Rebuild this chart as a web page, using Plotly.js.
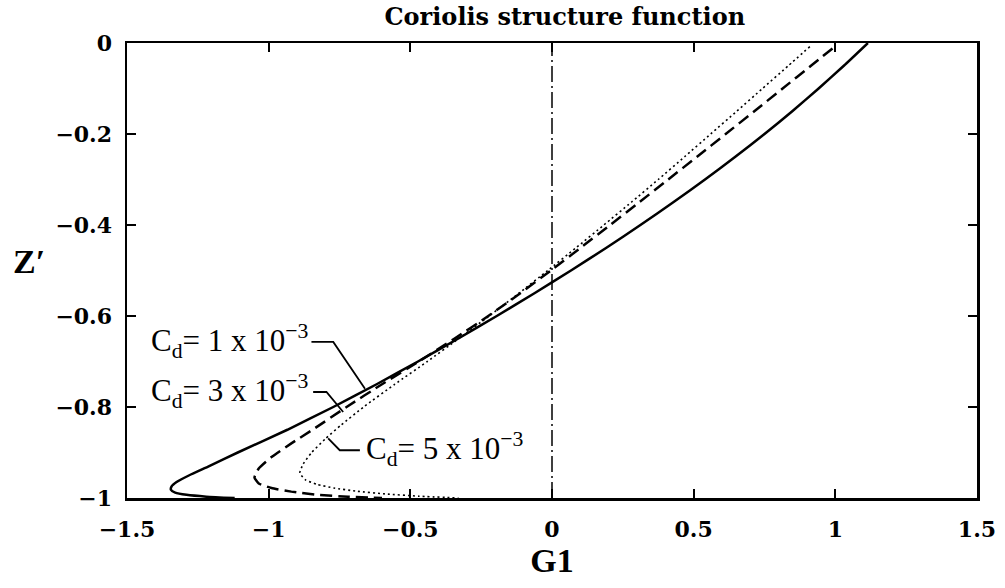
<!DOCTYPE html>
<html>
<head>
<meta charset="utf-8">
<script src="https://cdn.plot.ly/plotly-3.0.1.min.js"></script>
<style>
  html, body { margin: 0; padding: 0; background: #fff; }
  #chart { width: 1005px; height: 588px; }
</style>
</head>
<body>
<div id="chart"></div>
<script>
// ---- Data ----
// Cd = 1e-3 (solid)
const z_cd1 = [0, -0.05, -0.1, -0.15, -0.2, -0.25, -0.3, -0.35, -0.4, -0.45, -0.5, -0.55, -0.6, -0.65, -0.7, -0.75, -0.8, -0.85, -0.9, -0.93, -0.95, -0.965, -0.975, -0.982, -0.988, -0.993, -0.997, -1.0];
const g_cd1 = [1.115, 1.03, 0.941, 0.848, 0.75, 0.647, 0.54, 0.428, 0.312, 0.192, 0.067, -0.062, -0.195, -0.332, -0.473, -0.619, -0.772, -0.934, -1.109, -1.21, -1.28, -1.325, -1.343, -1.345, -1.33, -1.29, -1.22, -1.12];

// Cd = 3e-3 (dashed)
const z_cd3 = [-0.012, -0.05, -0.1, -0.15, -0.2, -0.25, -0.3, -0.35, -0.4, -0.45, -0.5, -0.55, -0.6, -0.65, -0.7, -0.75, -0.8, -0.85, -0.88, -0.91, -0.935, -0.955, -0.968, -0.978, -0.986, -0.993, -0.997, -1.0];
const g_cd3 = [0.99, 0.914, 0.814, 0.714, 0.613, 0.512, 0.41, 0.308, 0.205, 0.101, -0.004, -0.112, -0.225, -0.345, -0.47, -0.6, -0.725, -0.845, -0.92, -0.99, -1.035, -1.05, -1.035, -0.99, -0.92, -0.83, -0.72, -0.6];

// Cd = 5e-3 (dotted)
const z_cd5 = [-0.008, -0.05, -0.1, -0.15, -0.2, -0.25, -0.3, -0.35, -0.4, -0.45, -0.5, -0.55, -0.6, -0.65, -0.7, -0.75, -0.8, -0.84, -0.87, -0.9, -0.925, -0.945, -0.96, -0.97, -0.978, -0.985, -0.991, -0.996, -1.0];
const g_cd5 = [0.91, 0.834, 0.743, 0.652, 0.56, 0.468, 0.375, 0.28, 0.183, 0.085, -0.015, -0.117, -0.222, -0.33, -0.44, -0.555, -0.665, -0.745, -0.8, -0.848, -0.878, -0.89, -0.87, -0.83, -0.77, -0.69, -0.59, -0.47, -0.33];

const seriesNames = ["C<sub>d</sub>= 1 x 10<sup>−3</sup>", "C<sub>d</sub>= 3 x 10<sup>−3</sup>", "C<sub>d</sub>= 5 x 10<sup>−3</sup>"];

const xTicks = [-1.5, -1, -0.5, 0, 0.5, 1, 1.5];
const xTickText = ["−1.5", "−1", "−0.5", "0", "0.5", "1", "1.5"];
const yTicks = [-1, -0.8, -0.6, -0.4, -0.2, 0];
const yTickText = ["−1", "−0.8", "−0.6", "−0.4", "−0.2", "0"];

// ---- Traces ----
const traces = [
  { x: g_cd1, y: z_cd1, mode: "lines", name: seriesNames[0],
    line: { color: "#000", width: 2.5, shape: "spline", smoothing: 0.5 } },
  { x: g_cd3, y: z_cd3, mode: "lines", name: seriesNames[1],
    line: { color: "#000", width: 2.5, dash: "12px,6px", shape: "spline", smoothing: 0.5 } },
  { x: g_cd5, y: z_cd5, mode: "lines", name: seriesNames[2],
    line: { color: "#000", width: 1.6, dash: "2px,3px", shape: "spline", smoothing: 0.5 } }
];

const tickFont = { family: "DejaVu Serif", size: 22, color: "#000", weight: "bold" };
const labelFont = { family: "Liberation Serif", size: 31, color: "#000" };

const layout = {
  width: 1005, height: 588,
  paper_bgcolor: "#fff", plot_bgcolor: "#fff",
  showlegend: false,
  margin: { l: 127, r: 28, t: 43, b: 90, pad: 0 },
  title: { text: "<b>Coriolis structure function</b>",
           font: { family: "DejaVu Serif", size: 24, color: "#000" },
           x: 0.562, xref: "container", xanchor: "center",
           y: 0.972, yref: "container", yanchor: "middle" },
  xaxis: {
    range: [-1.5, 1.5], tickvals: xTicks, ticktext: xTickText,
    ticks: "inside", ticklen: 9, tickwidth: 2, tickcolor: "#000",
    showline: true, linewidth: 2.5, linecolor: "#000", mirror: "ticks",
    showgrid: false, zeroline: false, tickfont: tickFont, ticklabelstandoff: 10,
    title: { text: "G1", font: { family: "Liberation Serif", size: 34, color: "#000", weight: "bold" }, standoff: 4 }
  },
  yaxis: {
    range: [-1, 0], tickvals: yTicks, ticktext: yTickText,
    ticks: "inside", ticklen: 9, tickwidth: 2, tickcolor: "#000",
    showline: true, linewidth: 2.5, linecolor: "#000", mirror: "ticks",
    showgrid: false, zeroline: false, tickfont: tickFont, ticklabelstandoff: 8
  },
  shapes: [
    { type: "line", xref: "x", yref: "paper", x0: 0, x1: 0, y0: 0, y1: 1,
      line: { color: "#000", width: 1.5, dash: "16px,4px,2px,4px" } },
    { type: "path", xref: "x", yref: "y", path: "M -0.849,-0.657 L -0.772,-0.657 L -0.660,-0.760",
      line: { color: "#000", width: 1.8 } },
    { type: "path", xref: "x", yref: "y", path: "M -0.843,-0.767 L -0.796,-0.767 L -0.737,-0.811",
      line: { color: "#000", width: 1.8 } },
    { type: "path", xref: "x", yref: "y", path: "M -0.678,-0.895 L -0.749,-0.895 L -0.790,-0.869",
      line: { color: "#000", width: 1.8 } }
  ],
  annotations: [
    { text: seriesNames[0], xref: "x", yref: "y", x: -0.855, y: -0.655, xanchor: "right", yanchor: "middle",
      showarrow: false, font: labelFont },
    { text: seriesNames[1], xref: "x", yref: "y", x: -0.855, y: -0.765, xanchor: "right", yanchor: "middle",
      showarrow: false, font: labelFont },
    { text: seriesNames[2], xref: "x", yref: "y", x: -0.665, y: -0.893, xanchor: "left", yanchor: "middle",
      showarrow: false, font: labelFont },
    { text: "<b>Z′</b>", xref: "paper", yref: "paper", x: -0.115, y: 0.52, xanchor: "center", yanchor: "middle",
      showarrow: false, font: { family: "Liberation Serif", size: 34, color: "#000" } }
  ]
};

Plotly.newPlot("chart", traces, layout, { displayModeBar: false, staticPlot: true });
</script>
</body>
</html>
